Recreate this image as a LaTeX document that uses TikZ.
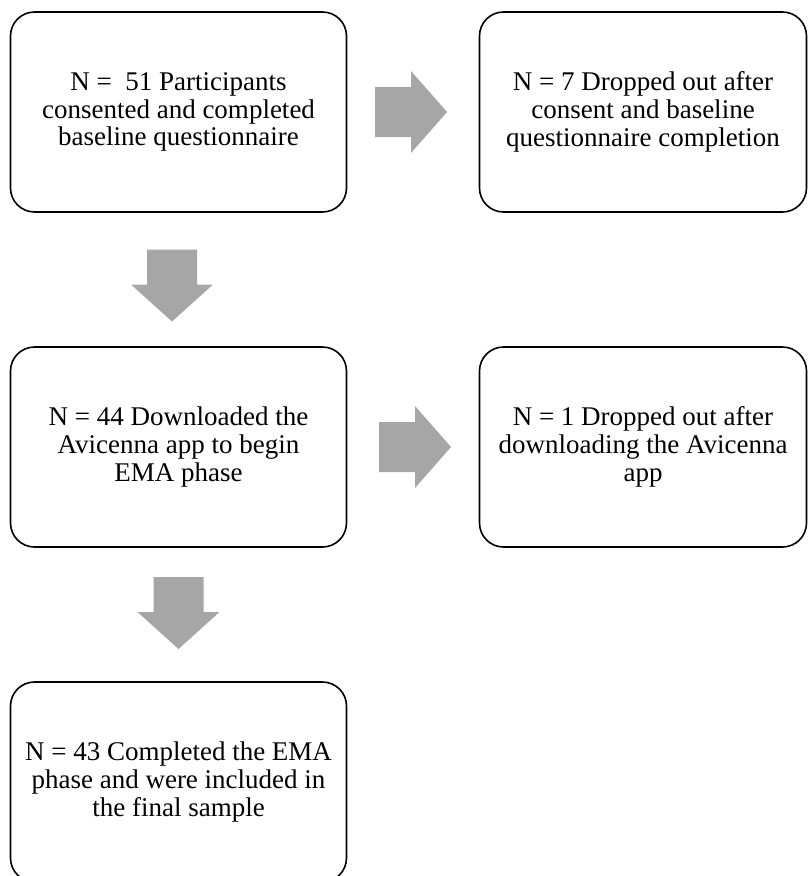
\documentclass[tikz,border=0pt]{standalone}
\usepackage{fontspec}
\setmainfont{Liberation Serif}
\usetikzlibrary{calc}
\begin{document}
\begin{tikzpicture}[x=1pt,y=-1pt,
  stage/.style={draw=black, line width=1.6pt, rounded corners=24pt,
    minimum height=200pt, inner sep=0pt, align=center,
    font=\fontsize{27}{27.8}\selectfont},
  leftbox/.style={stage, minimum width=336pt},
  rightbox/.style={stage, minimum width=327pt},
  blockarrow/.style={fill=black!35, draw=none}]
\useasboundingbox (0,0) rectangle (809,876);
\begin{scope}
\clip (0,0) rectangle (809,876);
% boxes of the flow
\node[leftbox]  (consent) at (178.5,112) {N =\ \ 51 Participants\\consented and completed\\baseline questionnaire};
\node[rightbox] (drop1)   at (643,112)   {N = 7 Dropped out after\\consent and baseline\\questionnaire completion};
\node[leftbox]  (download) at (178.5,447) {N = 44 Downloaded the\\Avicenna app to begin\\EMA phase};
\node[rightbox] (drop2)   at (643,447) {N = 1 Dropped out after\\downloading the Avicenna\\app};
\node[leftbox]  (final)   at (178.5,782) {N = 43 Completed the EMA\\phase and were included in\\the final sample};
\end{scope}
% block arrows between the boxes
\coordinate (r1) at ($(consent.east)!0.5!(drop1.west)+(-2,0)$);
\coordinate (r2) at ($(download.east)!0.5!(drop2.west)+(2,0)$);
\coordinate (d1) at ($(consent.south)!0.5!(download.north)+(-6.5,6)$);
\coordinate (d2) at ($(download.south)!0.5!(final.north)+(0,-1.5)$);
\foreach \c in {r1,r2}{
  \fill[blockarrow, shift={(\c)}] (-36,-25) -- (0,-25) -- (0,-41) -- (36,0)
    -- (0,41) -- (0,25) -- (-36,25) -- cycle;
}
\foreach \c in {d1,d2}{
  \fill[blockarrow, shift={(\c)}] (-25,-36) -- (25,-36) -- (25,-1) -- (41,-1)
    -- (0,36) -- (-41,-1) -- (-25,-1) -- cycle;
}
\end{tikzpicture}
\end{document}
